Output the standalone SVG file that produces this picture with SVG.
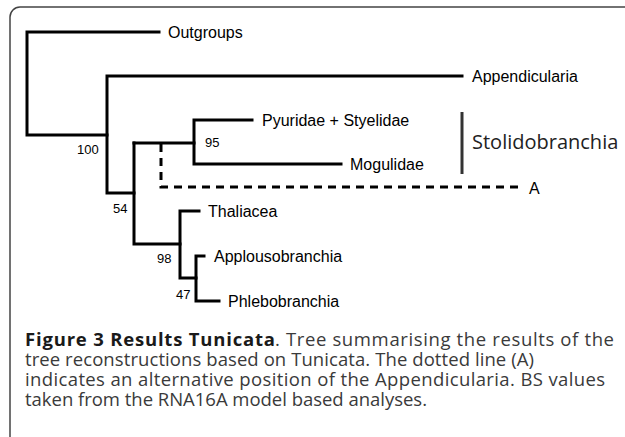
<svg xmlns="http://www.w3.org/2000/svg" width="625" height="437" viewBox="0 0 625 437">
<style>
.br{fill:none;stroke:#000;stroke-width:3;stroke-linecap:square}
.dash{fill:none;stroke:#000;stroke-width:3;stroke-dasharray:8 6}
.lab{font-family:"Liberation Sans",Arial,sans-serif;font-size:16px;fill:#000}
.bs{font-family:"Liberation Sans",Arial,sans-serif;font-size:13px;fill:#000}
.cap{font-family:"Open Sans",sans-serif;font-size:18.5px;fill:#3a3a3a}
.capb{font-family:"Open Sans",sans-serif;font-size:18.5px;font-weight:bold;fill:#1a1a1a}
</style>
<rect x="10" y="7" width="630" height="440" rx="10" fill="none" stroke="#444" stroke-width="1.5"/>
<g id="connectors">
<path class="br" d="M159,32 H27 V135 H107"/>
<path class="br" d="M462,76 H107 V193 H134"/>
<path class="br" d="M252,120 H194 V164 H341"/>
<path class="br" d="M134,143 H194"/>
<path class="br" d="M134,193 V143 M134,193 V244 H180"/>
<path class="br" d="M199,211 H180 V278 H196"/>
<path class="br" d="M204,256 H196 V301 H219"/>
<path class="dash" d="M161,144 V187 H518"/>
</g>
<g id="outgroups"><text class="lab" x="168" y="38">Outgroups</text></g>
<g id="appendicularia"><text class="lab" x="472" y="82">Appendicularia</text></g>
<g id="pyuridae"><text class="lab" x="262" y="126">Pyuridae + Styelidae</text></g>
<g id="mogulidae"><text class="lab" x="350" y="170">Mogulidae</text></g>
<g id="a"><text class="lab" x="529" y="194">A</text></g>
<g id="thaliacea"><text class="lab" x="208" y="217">Thaliacea</text></g>
<g id="applousobranchia"><text class="lab" x="214" y="262">Applousobranchia</text></g>
<g id="phlebobranchia"><text class="lab" x="228" y="307">Phlebobranchia</text></g>
<g id="stolidobranchia">
<line x1="462" y1="112" x2="462" y2="174" stroke="#333" stroke-width="3"/>
<text x="472" y="149" font-family="Open Sans, sans-serif" font-size="20" fill="#222">Stolidobranchia</text>
</g>
<g id="bs-values">
<text class="bs" x="77" y="154">100</text>
<text class="bs" x="205" y="147">95</text>
<text class="bs" x="113" y="213">54</text>
<text class="bs" x="157" y="263">98</text>
<text class="bs" x="176" y="299">47</text>
</g>
<g id="caption">
<text class="capb" x="25" y="346" textLength="250">Figure 3 Results Tunicata</text>
<text class="cap" x="275" y="346" textLength="339">. Tree summarising the results of the</text>
<text class="cap" x="25" y="366" textLength="509">tree reconstructions based on Tunicata. The dotted line (A)</text>
<text class="cap" x="25" y="386" textLength="580">indicates an alternative position of the Appendicularia. BS values</text>
<text class="cap" x="25" y="406" textLength="402">taken from the RNA16A model based analyses.</text>
</g>
</svg>
